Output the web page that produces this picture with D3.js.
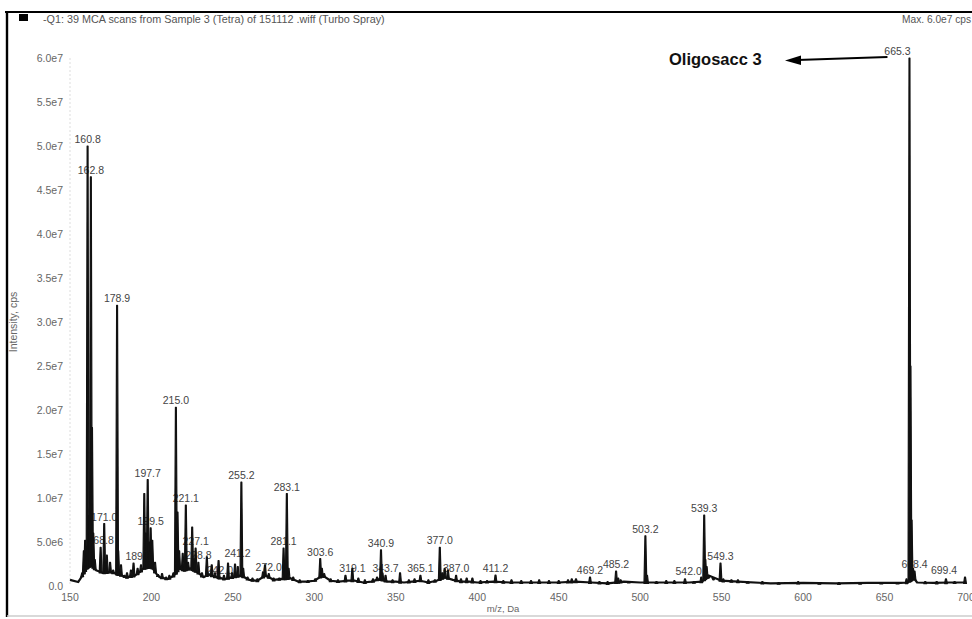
<!DOCTYPE html>
<html>
<head>
<meta charset="utf-8">
<script src="https://cdn.jsdelivr.net/npm/d3@7"></script>
<style>
  html, body { margin: 0; padding: 0; background: #fff; }
  svg { display: block; font-family: "Liberation Sans", Arial, sans-serif; }
</style>
</head>
<body>
<svg id="chart" width="972" height="619"></svg>
<script>
// ---- Spectrum data (m/z in Da, intensity in cps) ----
const peakMz = [
  157.5, 158.5, 159.3, 160.2, 160.8, 161.6, 162.8, 163.5, 164.3, 165.2,
  168.8, 171.0, 172.6, 174.6, 176.5, 178.9, 179.6, 181.3, 183.5, 185.0,
  187.4, 189.0, 191.5, 193.6, 195.6, 196.5, 197.7, 198.6, 199.5, 200.5,
  202.2, 204.0, 206.5, 209.0, 211.0, 213.5, 215.0, 216.0, 217.0, 219.2,
  220.3, 221.1, 222.5, 225.0, 226.0, 227.1, 228.8, 231.0, 234.0, 237.0,
  239.0, 241.2, 242.0, 244.5, 247.0, 249.5, 251.3, 253.0, 255.2, 256.3,
  259.0, 262.0, 265.0, 268.5, 269.7, 272.0, 275.0, 278.5, 281.1, 282.2,
  283.1, 284.2, 287.0, 291.0, 296.0, 300.5, 303.6, 304.6, 306.0, 310.0,
  314.5, 319.1, 323.3, 327.0, 331.0, 336.0, 338.5, 340.9, 341.8, 343.7,
  348.0, 352.6, 358.0, 361.5, 365.1, 370.0, 374.0, 377.0, 378.5, 380.0,
  382.0, 387.0, 390.0, 393.5, 397.0, 402.0, 406.0, 411.2, 416.0, 421.0,
  427.0, 433.0, 438.0, 444.0, 450.0, 455.7, 458.0, 460.6, 469.2, 475.0,
  480.0, 485.2, 486.5, 488.0, 493.0, 503.2, 504.2, 510.0, 516.0, 521.0,
  527.5, 533.0, 537.5, 539.3, 540.0, 540.8, 542.0, 545.0, 549.3, 551.0,
  556.0, 560.0, 566.0, 575.0, 585.0, 597.0, 610.0, 622.0, 635.0, 648.0,
  658.0, 663.5, 665.3, 665.9, 666.6, 667.5, 668.4, 675.0, 682.0, 687.7,
  693.0, 699.4
];
const peakIntensity = [
  1.5e6, 4.0e6, 5.2e6, 4.5e6, 5.0e7, 8.0e6, 4.65e7, 1.8e7, 6.0e6, 3.0e6,
  4.4e6, 7.1e6, 3.5e6, 2.7e6, 1.8e6, 3.19e7, 4.0e6, 2.4e6, 1.2e6, 1.5e6,
  1.8e6, 2.6e6, 2.0e6, 2.4e6, 1.05e7, 6.0e6, 1.21e7, 5.0e6, 6.6e6, 5.2e6,
  2.7e6, 1.3e6, 1.4e6, 1.0e6, 1.2e6, 1.5e6, 2.03e7, 8.4e6, 4.0e6, 3.7e6,
  2.5e6, 9.2e6, 2.7e6, 6.7e6, 3.0e6, 4.3e6, 2.7e6, 1.5e6, 3.3e6, 2.4e6,
  1.5e6, 2.9e6, 1.0e6, 1.2e6, 2.6e6, 1.5e6, 2.5e6, 2.2e6, 1.18e7, 2.0e6,
  1.0e6, 0.9e6, 0.8e6, 1.6e6, 2.4e6, 1.4e6, 0.9e6, 0.9e6, 4.3e6, 2.0e6,
  1.05e7, 2.0e6, 1.0e6, 0.7e6, 0.6e6, 0.8e6, 3.1e6, 2.0e6, 1.4e6, 0.8e6,
  0.7e6, 1.2e6, 2.0e6, 0.9e6, 0.7e6, 0.8e6, 1.0e6, 4.1e6, 1.5e6, 1.2e6,
  0.7e6, 1.5e6, 0.7e6, 0.8e6, 1.2e6, 0.7e6, 0.7e6, 4.4e6, 1.5e6, 2.0e6,
  1.8e6, 1.2e6, 0.8e6, 0.9e6, 0.9e6, 0.6e6, 0.6e6, 1.25e6, 0.6e6, 0.7e6,
  0.6e6, 0.6e6, 0.7e6, 0.6e6, 0.6e6, 0.7e6, 0.8e6, 0.8e6, 1.0e6, 0.5e6,
  0.5e6, 1.7e6, 0.9e6, 0.7e6, 0.5e6, 5.7e6, 1.2e6, 0.5e6, 0.6e6, 0.6e6,
  0.8e6, 0.5e6, 1.0e6, 8.05e6, 3.0e6, 2.2e6, 0.9e6, 0.7e6, 2.6e6, 0.8e6,
  0.7e6, 0.7e6, 0.5e6, 0.5e6, 0.4e6, 0.5e6, 0.4e6, 0.4e6, 0.4e6, 0.4e6,
  0.4e6, 0.8e6, 6.0e7, 2.5e7, 7.5e6, 2.0e6, 1.7e6, 0.5e6, 0.5e6, 0.8e6,
  0.5e6, 1.0e6
];

// Chemical-noise baseline under the peaks
const baselineMz = [
  150, 155, 157, 160, 163, 166, 170, 175, 180, 185, 190, 193, 195, 200, 203,
  205, 210, 214, 217, 220, 224, 228, 232, 235, 240, 245, 250, 255, 260, 265,
  270, 275, 280, 285, 290, 295, 300, 305, 310, 315, 320, 325, 330, 335, 340,
  345, 350, 355, 360, 365, 370, 375, 380, 385, 390, 395, 400, 410, 420, 430,
  440, 450, 460, 470, 480, 490, 500, 510, 520, 530, 538, 542, 550, 560, 580,
  600, 620, 640, 660, 664, 668, 670, 680, 690, 700
];
const baselineIntensity = [
  0.7e6, 0.45e6, 1.0e6, 2.0e6, 2.4e6, 1.8e6, 1.5e6, 1.6e6, 1.3e6, 1.0e6,
  1.2e6, 1.6e6, 2.0e6, 2.2e6, 1.4e6, 1.0e6, 0.8e6, 1.2e6, 2.0e6, 1.8e6,
  2.0e6, 1.6e6, 1.0e6, 1.3e6, 1.0e6, 0.8e6, 1.0e6, 1.2e6, 0.7e6, 0.6e6,
  1.2e6, 0.7e6, 0.8e6, 0.9e6, 0.5e6, 0.5e6, 0.6e6, 1.2e6, 0.6e6, 0.5e6,
  0.6e6, 0.6e6, 0.4e6, 0.5e6, 0.8e6, 0.5e6, 0.5e6, 0.4e6, 0.5e6, 0.6e6,
  0.4e6, 0.6e6, 1.0e6, 0.7e6, 0.5e6, 0.5e6, 0.4e6, 0.5e6, 0.4e6, 0.4e6,
  0.4e6, 0.4e6, 0.5e6, 0.4e6, 0.3e6, 0.5e6, 0.4e6, 0.4e6, 0.4e6, 0.4e6,
  0.5e6, 1.2e6, 0.6e6, 0.5e6, 0.3e6, 0.35e6, 0.3e6, 0.35e6, 0.35e6, 0.4e6,
  0.9e6, 0.4e6, 0.35e6, 0.4e6, 0.4e6
];

// Peaks carrying an m/z annotation
const labelledMz = [
  "160.8", "162.8", "168.8", "171.0", "178.9", "189.0", "197.7", "199.5",
  "215.0", "221.1", "227.1", "228.8", "241.2", "242.0", "255.2", "272.0",
  "281.1", "283.1", "303.6", "319.1", "340.9", "343.7", "365.1", "377.0",
  "387.0", "411.2", "469.2", "485.2", "503.2", "539.3", "542.0", "549.3",
  "665.3", "668.4", "699.4"
];

const xTicks = [150, 200, 250, 300, 350, 400, 450, 500, 550, 600, 650, 700];
const yTicks = [0, 5e6, 1e7, 1.5e7, 2e7, 2.5e7, 3e7, 3.5e7, 4e7, 4.5e7, 5e7, 5.5e7, 6e7];

const titleText = "-Q1: 39 MCA scans from Sample 3 (Tetra) of 151112 .wiff (Turbo Spray)";
const maxText = "Max. 6.0e7 cps";
const calloutText = "Oligosacc 3";
const calloutMz = "665.3";

// ---- Layout ----
const svg = d3.select("#chart");
const x = d3.scaleLinear().domain([150, 700]).range([70, 966]);
const y = d3.scaleLinear().domain([0, 6e7]).range([586, 58]);

// Sideways shifts for annotations the acquisition software moved to avoid overlaps
const labelShift = { "665.3": -12, "542.0": -20, "699.4": -21, "241.2": 19, "319.1": 7, "189.0": 5 };

// Frame
svg.append("line").attr("x1", 5).attr("x2", 972).attr("y1", 12).attr("y2", 12)
  .attr("stroke", "#000").attr("stroke-width", 2.2);
svg.append("line").attr("x1", 7).attr("x2", 7).attr("y1", 11).attr("y2", 617)
  .attr("stroke", "#000").attr("stroke-width", 2.4);
svg.append("line").attr("x1", 7).attr("x2", 972).attr("y1", 616).attr("y2", 616)
  .attr("stroke", "#ccc").attr("stroke-width", 1.5);

// Header
svg.append("rect").attr("x", 19).attr("y", 14).attr("width", 9).attr("height", 7).attr("fill", "#000");
svg.append("text").attr("x", 43).attr("y", 23).attr("font-size", 10.8).attr("fill", "#555")
  .text(titleText);
svg.append("text").attr("x", 902).attr("y", 23).attr("font-size", 10.2).attr("fill", "#555")
  .text(maxText);

// Y axis
const yAxis = svg.append("g");
yAxis.append("line").attr("x1", x(150)).attr("x2", x(150)).attr("y1", y(6e7)).attr("y2", y(0))
  .attr("stroke", "#ddd").attr("stroke-width", 1).attr("stroke-dasharray", "2,2");
const fmtY = d => d === 0 ? "0.0" : d3.format(".1e")(d).replace("e+", "e");
yAxis.selectAll("text.ytick").data(yTicks).join("text")
  .attr("class", "ytick")
  .attr("x", 63).attr("y", d => y(d)).attr("dy", "0.35em")
  .attr("text-anchor", "end").attr("font-size", 10.5).attr("fill", "#666")
  .text(fmtY);
svg.append("text")
  .attr("transform", `translate(17,${(y(0) + y(6e7)) / 2}) rotate(-90)`)
  .attr("text-anchor", "middle").attr("font-size", 10.5).attr("fill", "#666")
  .text("Intensity, cps");

// X axis
svg.selectAll("text.xtick").data(xTicks).join("text")
  .attr("class", "xtick")
  .attr("x", d => x(d)).attr("y", 601)
  .attr("text-anchor", "middle").attr("font-size", 10.5).attr("fill", "#666")
  .text(d => d);
svg.append("text").attr("x", 503).attr("y", 612).attr("text-anchor", "middle")
  .attr("font-size", 9.5).attr("fill", "#666").text("m/z, Da");

// Helpers
const baseAt = mz => {
  const i = d3.bisectRight(baselineMz, mz);
  if (i <= 0) return baselineIntensity[0];
  if (i >= baselineMz.length) return baselineIntensity[baselineIntensity.length - 1];
  const t = (mz - baselineMz[i - 1]) / (baselineMz[i] - baselineMz[i - 1]);
  return baselineIntensity[i - 1] + t * (baselineIntensity[i] - baselineIntensity[i - 1]);
};
const peaks = peakMz.map((mz, i) => ({ mz, v: peakIntensity[i] }));

// Peak annotations (drawn first so the peaks sit on top of them)
const labels = labelledMz.map(t => {
  const mz = +t;
  const p = peaks.find(d => Math.abs(d.mz - mz) < 1e-6);
  return { text: t, mz, v: p ? p.v : 0 };
});
svg.append("g").selectAll("text").data(labels).join("text")
  .attr("x", d => x(d.mz) + (labelShift[d.text] || 0))
  .attr("y", d => y(d.v) - 3)
  .attr("text-anchor", "middle").attr("font-size", 10.5).attr("fill", "#444")
  .text(d => d.text);

// Baseline trace
const baseLine = d3.line().x(d => x(d[0])).y(d => y(d[1]));
svg.append("path")
  .datum(baselineMz.map((m, i) => [m, baselineIntensity[i]]))
  .attr("d", baseLine).attr("fill", "none").attr("stroke", "#111").attr("stroke-width", 2.2)
  .attr("stroke-linejoin", "round");

// Peaks as narrow profiles rising from the baseline
const half = 1.4;
svg.append("g").selectAll("path").data(peaks).join("path")
  .attr("d", d => {
    const px = x(d.mz), b = y(baseAt(d.mz)), t = y(d.v);
    return `M${px - half},${b + 1}L${px - 0.45},${t}L${px + 0.45},${t}L${px + half},${b + 1}Z`;
  })
  .attr("fill", "#111").attr("stroke", "#111").attr("stroke-width", 1.2)
  .attr("stroke-linejoin", "round");

// Callout for the molecular ion
const cy = 59;
const tipX = 785, tailX = x(+calloutMz) - 22;
svg.append("line").attr("x1", tailX).attr("y1", cy - 2).attr("x2", tipX + 12).attr("y2", cy + 1)
  .attr("stroke", "#000").attr("stroke-width", 2);
svg.append("path")
  .attr("d", `M${tipX},${cy + 1.5}L${tipX + 16},${cy - 3.5}L${tipX + 16},${cy + 6}Z`)
  .attr("fill", "#000");
svg.append("text").attr("x", 669).attr("y", 65).attr("font-size", 16.5).attr("font-weight", "bold")
  .attr("fill", "#111").text(calloutText);
</script>
</body>
</html>
